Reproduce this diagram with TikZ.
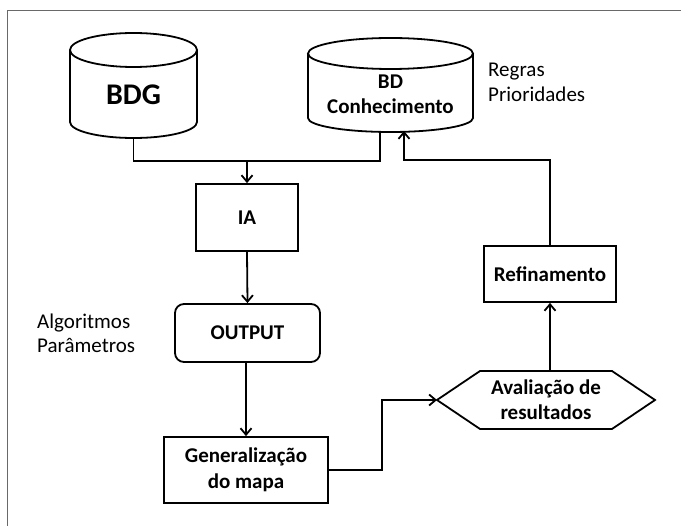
\documentclass[tikz,border=0pt]{standalone}
\usepackage{fontspec}
\setmainfont{Carlito}
\usetikzlibrary{arrows.meta}
\definecolor{framegray}{RGB}{105,105,105}
\tikzset{
  x=1pt, y=-1pt,
  shapeline/.style={line width=1.8pt, black},
  boxlabel/.style={font=\bfseries\fontsize{21}{25}\selectfont, align=center, inner sep=0pt},
  sidelabel/.style={font=\fontsize{21}{24.5}\selectfont, align=left, anchor=west, inner sep=0pt},
  flowbox/.style={draw, line width=1.8pt, font=\bfseries\fontsize{21}{26}\selectfont, align=center, inner sep=0pt},
  link/.style={line width=1.8pt},
  flowarrow/.style={line width=1.8pt, -{Straight Barb[length=6.5pt,width=11pt,line width=1.8pt]}}
}
\begin{document}
\begin{tikzpicture}
\useasboundingbox (0,0) rectangle (681,526);

% partial outer frame
\draw[framegray, line width=1.6pt] (7.5,526) -- (7.5,10.5) -- (681,10.5);

% BDG cylinder
\draw[shapeline] (70,50) -- (70,122) arc[start angle=180, end angle=0, x radius=63.5, y radius=16] -- (197,50);
\draw[shapeline] (133.5,50) ellipse[x radius=63.5, y radius=17];
\node[font=\bfseries\fontsize{30}{32}\selectfont, inner sep=0pt] (bdg) at (133.5,95) {BDG};
\coordinate (bdgbot) at (133.5,138);

% BD Conhecimento cylinder
\draw[shapeline] (308,53.5) -- (308,118) arc[start angle=180, end angle=0, x radius=82.5, y radius=14] -- (473,53.5);
\draw[shapeline] (390.5,53.5) ellipse[x radius=82.5, y radius=15.5];
\node[boxlabel] (bdk) at (390.5,94.5) {BD\\Conhecimento};
\coordinate (bdkbot) at (380,131.5);
\coordinate (bdkin) at (404,131);

\node[sidelabel] (regras) at (488,82.5) {Regras\\Prioridades};
\node[sidelabel] (algo) at (37,333.5) {Algoritmos\\Parâmetros};

% process boxes
\node[flowbox, minimum width=102pt, minimum height=67pt] (ia) at (247,217.5) {IA};
\node[flowbox, rounded corners=9pt, minimum width=145pt, minimum height=58pt] (out) at (247.5,333) {OUTPUT};
\node[flowbox, minimum width=164pt, minimum height=66pt] (gen) at (246,470) {Generalização\\do mapa};
\node[flowbox, minimum width=132pt, minimum height=56pt] (ref) at (550,274) {Refinamento};

% evaluation hexagon
\draw[shapeline] (437,400) -- (480,371) -- (612,371) -- (655,400) -- (612,429) -- (480,429) -- cycle;
\node[boxlabel] (aval) at (546,400) {Avaliação de\\resultados};
\coordinate (avalleft) at (437,400);
\coordinate (avaltop) at (550,371);

% connectors
\coordinate (join) at (247,161);
\draw[link] (bdgbot) |- (join) -| (bdkbot);
\draw[flowarrow] (join) -- (ia.north);
\draw[flowarrow] (ia.south) -- (out.north);
\draw[flowarrow] (out.south -| gen.north) -- (gen.north);
\draw[flowarrow] (gen.east) -- (382,470) |- (avalleft);
\draw[flowarrow] (avaltop) -- (avaltop |- ref.south);
\draw[flowarrow] (ref.north) |- (404,160) -- (bdkin);
\end{tikzpicture}
\end{document}
